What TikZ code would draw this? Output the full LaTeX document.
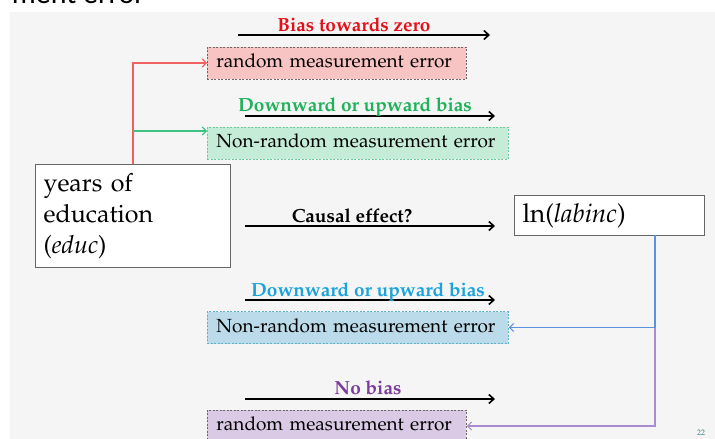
\documentclass[tikz,border=0pt]{standalone}
\usepackage{fontspec}
\newfontfamily\titlefont{Carlito}
\usepackage[T1]{fontenc}
\usepackage{mathpazo}
\usetikzlibrary{arrows.meta}
\definecolor{bgg}{HTML}{F5F5F5}
\definecolor{redlab}{HTML}{E3101A}
\definecolor{greenlab}{HTML}{1FB25A}
\definecolor{bluelab}{HTML}{1AA3DE}
\definecolor{purplelab}{HTML}{7B3C9E}
\definecolor{pinkf}{HTML}{F8C3C3}
\definecolor{greenf}{HTML}{C5ECD6}
\definecolor{bluef}{HTML}{BBDBEA}
\definecolor{purplef}{HTML}{DACAE6}
\definecolor{redc}{HTML}{F06262}
\definecolor{greenc}{HTML}{3DC484}
\definecolor{bluec}{HTML}{5A92E0}
\definecolor{purplec}{HTML}{A98CCF}
\definecolor{greenb}{HTML}{6CC99A}
\definecolor{blueb}{HTML}{5FB3C8}
\definecolor{grayb}{HTML}{6E6666}
\begin{document}
\begin{tikzpicture}[x=1pt,y=-1pt,
  errbox/.style={draw, dash pattern=on 2pt off 1.5pt, line width=0.9pt,
    minimum height=32pt, inner xsep=9pt, inner ysep=0pt, anchor=west,
    align=left, font=\fontsize{19}{22}\selectfont, text height=13pt, text depth=4pt},
  varbox/.style={draw=black!60, line width=1.2pt, fill=white, align=left, inner xsep=8pt},
  lab/.style={font=\bfseries\fontsize{19}{22}\selectfont, anchor=base, inner sep=0pt},
  bigarrow/.style={line width=1.8pt, -{Straight Barb[length=5pt,width=9pt,line width=1.6pt]}},
  conn/.style={line width=1.1pt, -{Straight Barb[length=4pt,width=8pt]}},
]
\useasboundingbox (0,0) rectangle (715,439);
\fill[white] (0,0) rectangle (715,439);
\fill[bgg] (10,12) rectangle (715,439);
\begin{scope}
\clip (0,0) rectangle (715,439);
\node[anchor=base east, inner sep=0pt, font=\titlefont\fontsize{30}{30}\selectfont] (title) at (145,4) {ment error};
\end{scope}

% error boxes
\node[errbox, fill=pinkf, draw=grayb, text width=241pt] (pink) at (207,63) {random measurement error};
\node[errbox, fill=greenf, draw=greenb, text width=283pt] (green) at (207,143) {Non-random measurement error};
\node[errbox, fill=bluef, draw=blueb, text width=283pt] (blue) at (207,327.5) {Non-random measurement error};
\node[errbox, fill=purplef, draw=grayb, text width=241pt] (purple) at (207,426) {random measurement error};

% variable boxes
\node[varbox, anchor=north west, minimum width=195pt, minimum height=103pt, text width=179pt,
  font=\fontsize{25}{31}\selectfont] (educ) at (35,164) {years of\\education\\(\textit{educ})};
\node[varbox, anchor=north west, minimum width=190pt, minimum height=40pt, text width=174pt,
  font=\fontsize{26}{30}\selectfont] (lab) at (514,195) {ln(\textit{labinc})};

% labelled arrows
\coordinate (a1s) at (238,35); \coordinate (a1e) at (490,35);
\coordinate (a2s) at (245,116); \coordinate (a2e) at (495,116);
\coordinate (a3s) at (245,226); \coordinate (a3e) at (495,226);
\coordinate (a4s) at (245,300); \coordinate (a4e) at (495,300);
\coordinate (a5s) at (245,399); \coordinate (a5e) at (495,399);
\draw[bigarrow] (a1s) -- (a1e);
\draw[bigarrow] (a2s) -- (a2e);
\draw[bigarrow] (a3s) -- (a3e);
\draw[bigarrow] (a4s) -- (a4e);
\draw[bigarrow] (a5s) -- (a5e);
\node[lab, text=redlab] (l1) at (354,31) {Bias towards zero};
\node[lab, text=greenlab] (l2) at (355,111) {Downward or upward bias};
\node[lab, text=black] (l3) at (352,222) {Causal effect?};
\node[lab, text=bluelab] (l4) at (368,296) {Downward or upward bias};
\node[lab, text=purplelab] (l5) at (368,394) {No bias};

% connectors
\coordinate (rj) at (133,164);
\coordinate (gj) at (133,131);
\coordinate (bj) at (655,235);
\coordinate (pj) at (655,327.5);
\draw[conn, draw=purplec] (pj) |- (purple.east);
\draw[conn, draw=redc] (rj) |- (pink.west);
\draw[conn, draw=greenc] (gj) -- (gj -| green.west);
\draw[conn, draw=bluec] (bj) |- (blue.east);

\node[font=\fontsize{8}{9}\selectfont, text=teal!60!gray, inner sep=0pt] (pg) at (701,433) {22};
\end{tikzpicture}
\end{document}
